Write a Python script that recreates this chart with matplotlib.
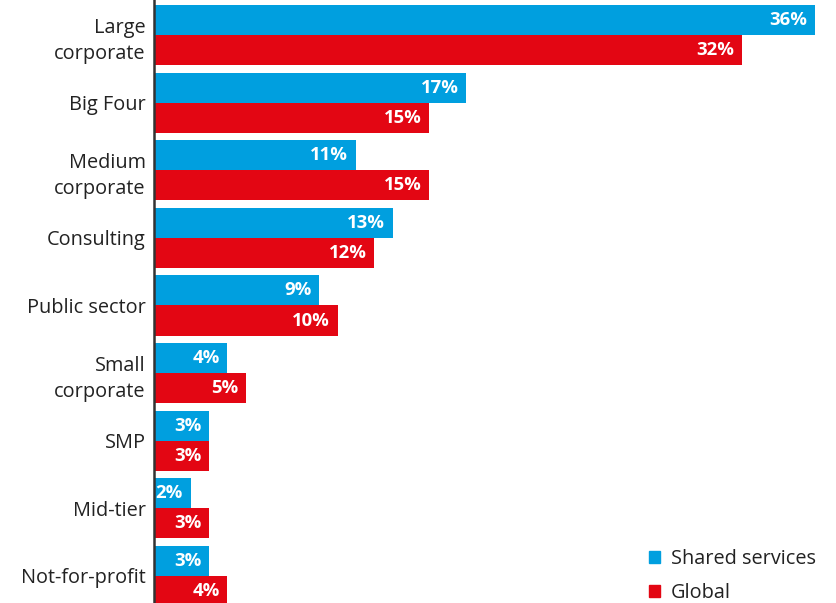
import numpy as np
import matplotlib.pyplot as plt
from matplotlib.patches import Patch

# ── Data ──────────────────────────────────────────────────────────────────────
categories = ["Large\ncorporate", "Big Four", "Medium\ncorporate", "Consulting",
              "Public sector", "Small\ncorporate", "SMP", "Mid-tier", "Not-for-profit"]
shared_services = [36, 17, 11, 13, 9, 4, 3, 2, 3]
global_vals     = [32, 15, 15, 12, 10, 5, 3, 3, 4]

BLUE = "#009FDF"
RED  = "#E30613"

plt.rcParams["font.family"] = ["Open Sans", "DejaVu Sans"]

# ── Plot ──────────────────────────────────────────────────────────────────────
fig = plt.figure(figsize=(8.37, 6.03), dpi=100)
ax = fig.add_axes([154 / 837, 0, 683 / 837, 1])

y = np.arange(len(categories))
h = 0.444

ax.barh(y - h / 2, shared_services, height=h, color=BLUE, label="Shared services")
ax.barh(y + h / 2, global_vals,     height=h, color=RED,  label="Global")

# value labels inside the bar ends
for yi, v in zip(y - h / 2, shared_services):
    ax.annotate(f"{v}%", (v, yi), xytext=(-5.5, 0), textcoords="offset points",
                ha="right", va="center", color="white", fontsize=13.3, fontweight="bold")
for yi, v in zip(y + h / 2, global_vals):
    ax.annotate(f"{v}%", (v, yi), xytext=(-5.5, 0), textcoords="offset points",
                ha="right", va="center", color="white", fontsize=13.3, fontweight="bold")

ax.set_xlim(0, 683 / 18.36)
ax.set_ylim(8.40, -0.518)

ax.set_yticks(y)
ax.set_yticklabels(categories, fontsize=14.3, color="#222222", linespacing=1.4)
ax.tick_params(axis="y", length=0, pad=6)
ax.set_xticks([])

for side in ["top", "right", "bottom"]:
    ax.spines[side].set_visible(False)
ax.spines["left"].set_linewidth(1.8)
ax.spines["left"].set_color("#333333")

handles = [Patch(color=BLUE, label="Shared services"), Patch(color=RED, label="Global")]
ax.legend(handles=handles, loc="lower right", frameon=False, fontsize=14.3,
          handlelength=0.55, handleheight=0.55, handletextpad=0.55, labelspacing=0.72,
          borderpad=0, borderaxespad=0,
          bbox_to_anchor=((816 - 154) / 683, 0.0), labelcolor="#222222")

fig.savefig("out.png", dpi=100)
